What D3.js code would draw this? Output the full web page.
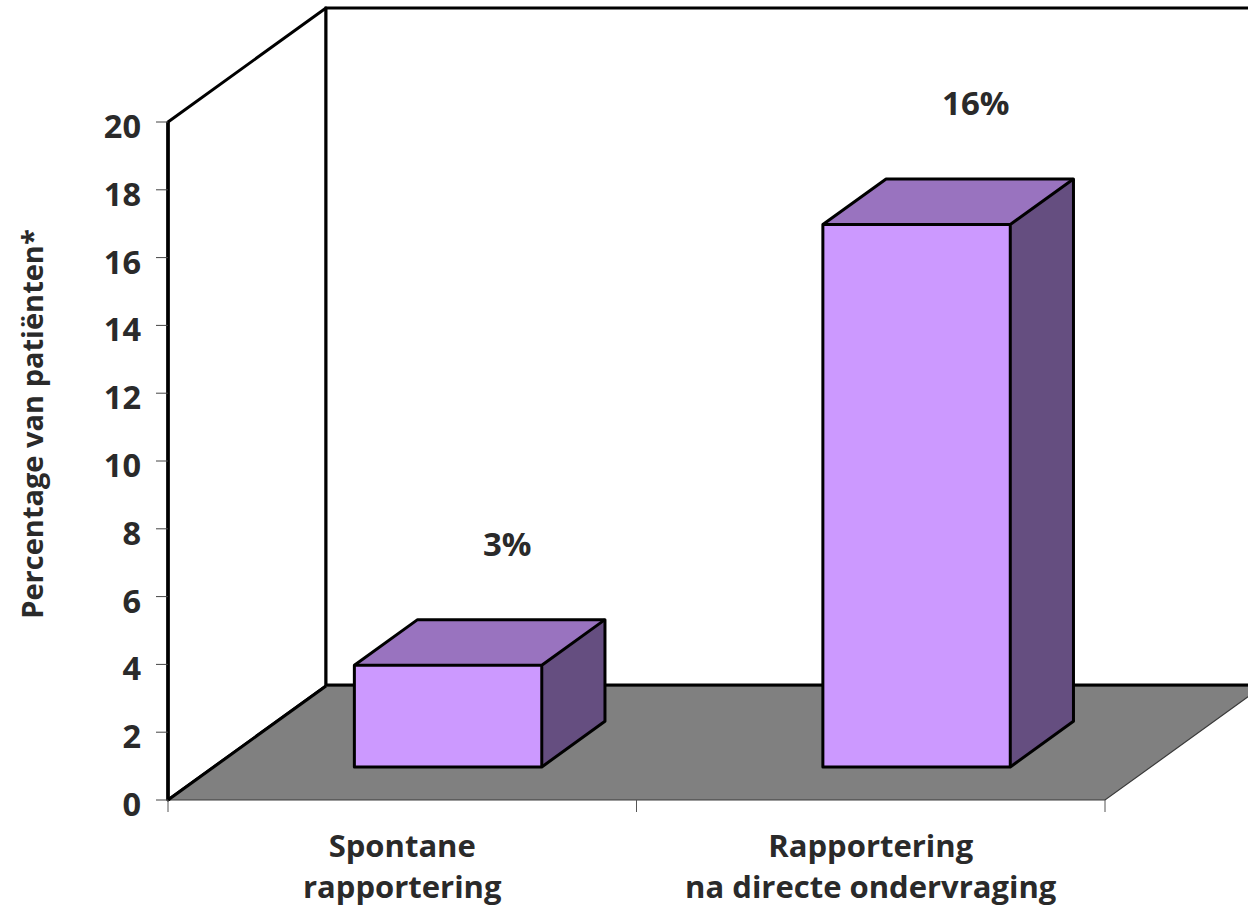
<!DOCTYPE html>
<html>
<head>
<meta charset="utf-8">
<script src="https://cdn.jsdelivr.net/npm/d3@7"></script>
<style>
  html, body { margin: 0; padding: 0; background: #fff; }
  svg { display: block; }
  text { font-family: "Open Sans", "Noto Sans", sans-serif; font-weight: 700; fill: #2a2a2a; }
</style>
</head>
<body>
<svg id="chart" width="1248" height="910"></svg>
<script>
// Data
const categories = ["Spontane\nrapportering", "Rapportering\nna directe ondervraging"];
const values = [3, 16];
const valueLabels = ["3%", "16%"];
const yTicks = [0, 2, 4, 6, 8, 10, 12, 14, 16, 18, 20];
const yTitle = "Percentage van patiënten*";

const svg = d3.select("#chart");

// Front plane scales
const x = d3.scaleBand()
  .domain(categories)
  .range([168, 1105])
  .paddingInner(0.6)
  .paddingOuter(0.3);
const y = d3.scaleLinear().domain([0, 20]).range([800, 122]);

// Depth (oblique projection): z = 0 front plane, z = 1 back wall
const zx = d3.scaleLinear().domain([0, 1]).range([0, 158]);
const zy = d3.scaleLinear().domain([0, 1]).range([0, -114]);
const barZ = [0.29, 0.69];

const xMin = x.range()[0], xMax = x.range()[1];
const P = (px, v, z) => [px + zx(z), y(v) + zy(z)];
const poly = pts => "M" + pts.map(p => p.join(",")).join("L") + "Z";

// Left wall
svg.append("path")
  .attr("d", poly([P(xMin, 0, 0), P(xMin, 20, 0), P(xMin, 20, 1), P(xMin, 0, 1)]))
  .attr("fill", "#fff").attr("stroke", "#000").attr("stroke-width", 3).attr("stroke-linejoin", "round");

// Back wall
svg.append("path")
  .attr("d", poly([P(xMin, 0, 1), P(xMin, 20, 1), P(xMax, 20, 1), P(xMax, 0, 1)]))
  .attr("fill", "#fff").attr("stroke", "#000").attr("stroke-width", 3);

// Floor
svg.append("path")
  .attr("d", poly([P(xMin, 0, 0), P(xMax, 0, 0), P(xMax, 0, 1), P(xMin, 0, 1)]))
  .attr("fill", "#808080").attr("stroke", "#3a3a3a").attr("stroke-width", 1.2);

// Heavy edges: back wall base and left floor edge
svg.append("line")
  .attr("x1", P(xMin, 0, 1)[0]).attr("y1", P(xMin, 0, 1)[1] - 1)
  .attr("x2", P(xMax, 0, 1)[0]).attr("y2", P(xMax, 0, 1)[1] - 1)
  .attr("stroke", "#000").attr("stroke-width", 3);
svg.append("line")
  .attr("x1", P(xMin, 0, 0)[0]).attr("y1", P(xMin, 0, 0)[1])
  .attr("x2", P(xMin, 0, 1)[0]).attr("y2", P(xMin, 0, 1)[1])
  .attr("stroke", "#000").attr("stroke-width", 3);

// Value axis line
svg.append("line")
  .attr("x1", xMin).attr("x2", xMin).attr("y1", y(0)).attr("y2", y(20))
  .attr("stroke", "#000").attr("stroke-width", 3.5);

// Value axis ticks and labels
const yAxis = svg.append("g");
yAxis.selectAll("line").data(yTicks).join("line")
  .attr("x1", xMin - 12).attr("x2", xMin)
  .attr("y1", d => y(d)).attr("y2", d => y(d))
  .attr("stroke", "#444").attr("stroke-width", 1);
yAxis.selectAll("text").data(yTicks).join("text")
  .attr("x", xMin - 27).attr("y", d => y(d) + 16)
  .attr("text-anchor", "end")
  .attr("font-size", 32.5)
  .text(d => d);

// Category axis ticks (slot boundaries on the front floor edge)
const catBounds = [xMin, ...categories.map(c => x(c) - x.step() * x.paddingOuter() + x.step())];
svg.append("g").selectAll("line").data(catBounds).join("line")
  .attr("x1", d => d).attr("x2", d => d)
  .attr("y1", y(0)).attr("y2", y(0) + 12)
  .attr("stroke", "#555").attr("stroke-width", 1);

// Bars (front, top, side faces)
const bars = svg.append("g").selectAll("g").data(values).join("g");
bars.each(function (v, i) {
  const g = d3.select(this);
  const x0 = x(categories[i]), x1 = x0 + x.bandwidth();
  const [z0, z1] = barZ;
  g.append("path")
    .attr("d", poly([P(x0, v, z0), P(x0, v, z1), P(x1, v, z1), P(x1, v, z0)]))
    .attr("fill", "#9973BF");
  g.append("path")
    .attr("d", poly([P(x1, 0, z0), P(x1, v, z0), P(x1, v, z1), P(x1, 0, z1)]))
    .attr("fill", "#654E80");
  g.append("path")
    .attr("d", poly([P(x0, 0, z0), P(x0, v, z0), P(x1, v, z0), P(x1, 0, z0)]))
    .attr("fill", "#CC99FF");
  // Outline
  g.append("path")
    .attr("d", poly([P(x0, 0, z0), P(x0, v, z0), P(x0, v, z1), P(x1, v, z1), P(x1, 0, z1), P(x1, 0, z0)]))
    .attr("fill", "none").attr("stroke", "#000").attr("stroke-width", 3).attr("stroke-linejoin", "round");
  g.append("path")
    .attr("d", "M" + P(x0, v, z0).join(",") + "L" + P(x1, v, z0).join(",") + "L" + P(x1, v, z1).join(",")
      + "M" + P(x1, v, z0).join(",") + "L" + P(x1, 0, z0).join(","))
    .attr("fill", "none").attr("stroke", "#000").attr("stroke-width", 3).attr("stroke-linejoin", "round");
});

// Value labels above the back edge of each bar top
svg.append("g").selectAll("text").data(values).join("text")
  .attr("x", (v, i) => P(x(categories[i]) + x.bandwidth() / 2, v, barZ[1])[0] - 4)
  .attr("y", v => P(0, v, barZ[1])[1] - 64)
  .attr("text-anchor", "middle")
  .attr("font-size", 33)
  .text((v, i) => valueLabels[i]);

// Category labels
const catG = svg.append("g").selectAll("text").data(categories).join("text")
  .attr("text-anchor", "middle")
  .attr("font-size", 31);
catG.selectAll("tspan").data(d => d.split("\n").map(t => [d, t])).join("tspan")
  .attr("x", d => x(d[0]) + x.bandwidth() / 2)
  .attr("y", (d, j) => 857 + j * 41)
  .text(d => d[1]);

// Value axis title
svg.append("text")
  .attr("transform", "translate(43,424) rotate(-90)")
  .attr("text-anchor", "middle")
  .attr("font-size", 29)
  .text(yTitle);
</script>
</body>
</html>
